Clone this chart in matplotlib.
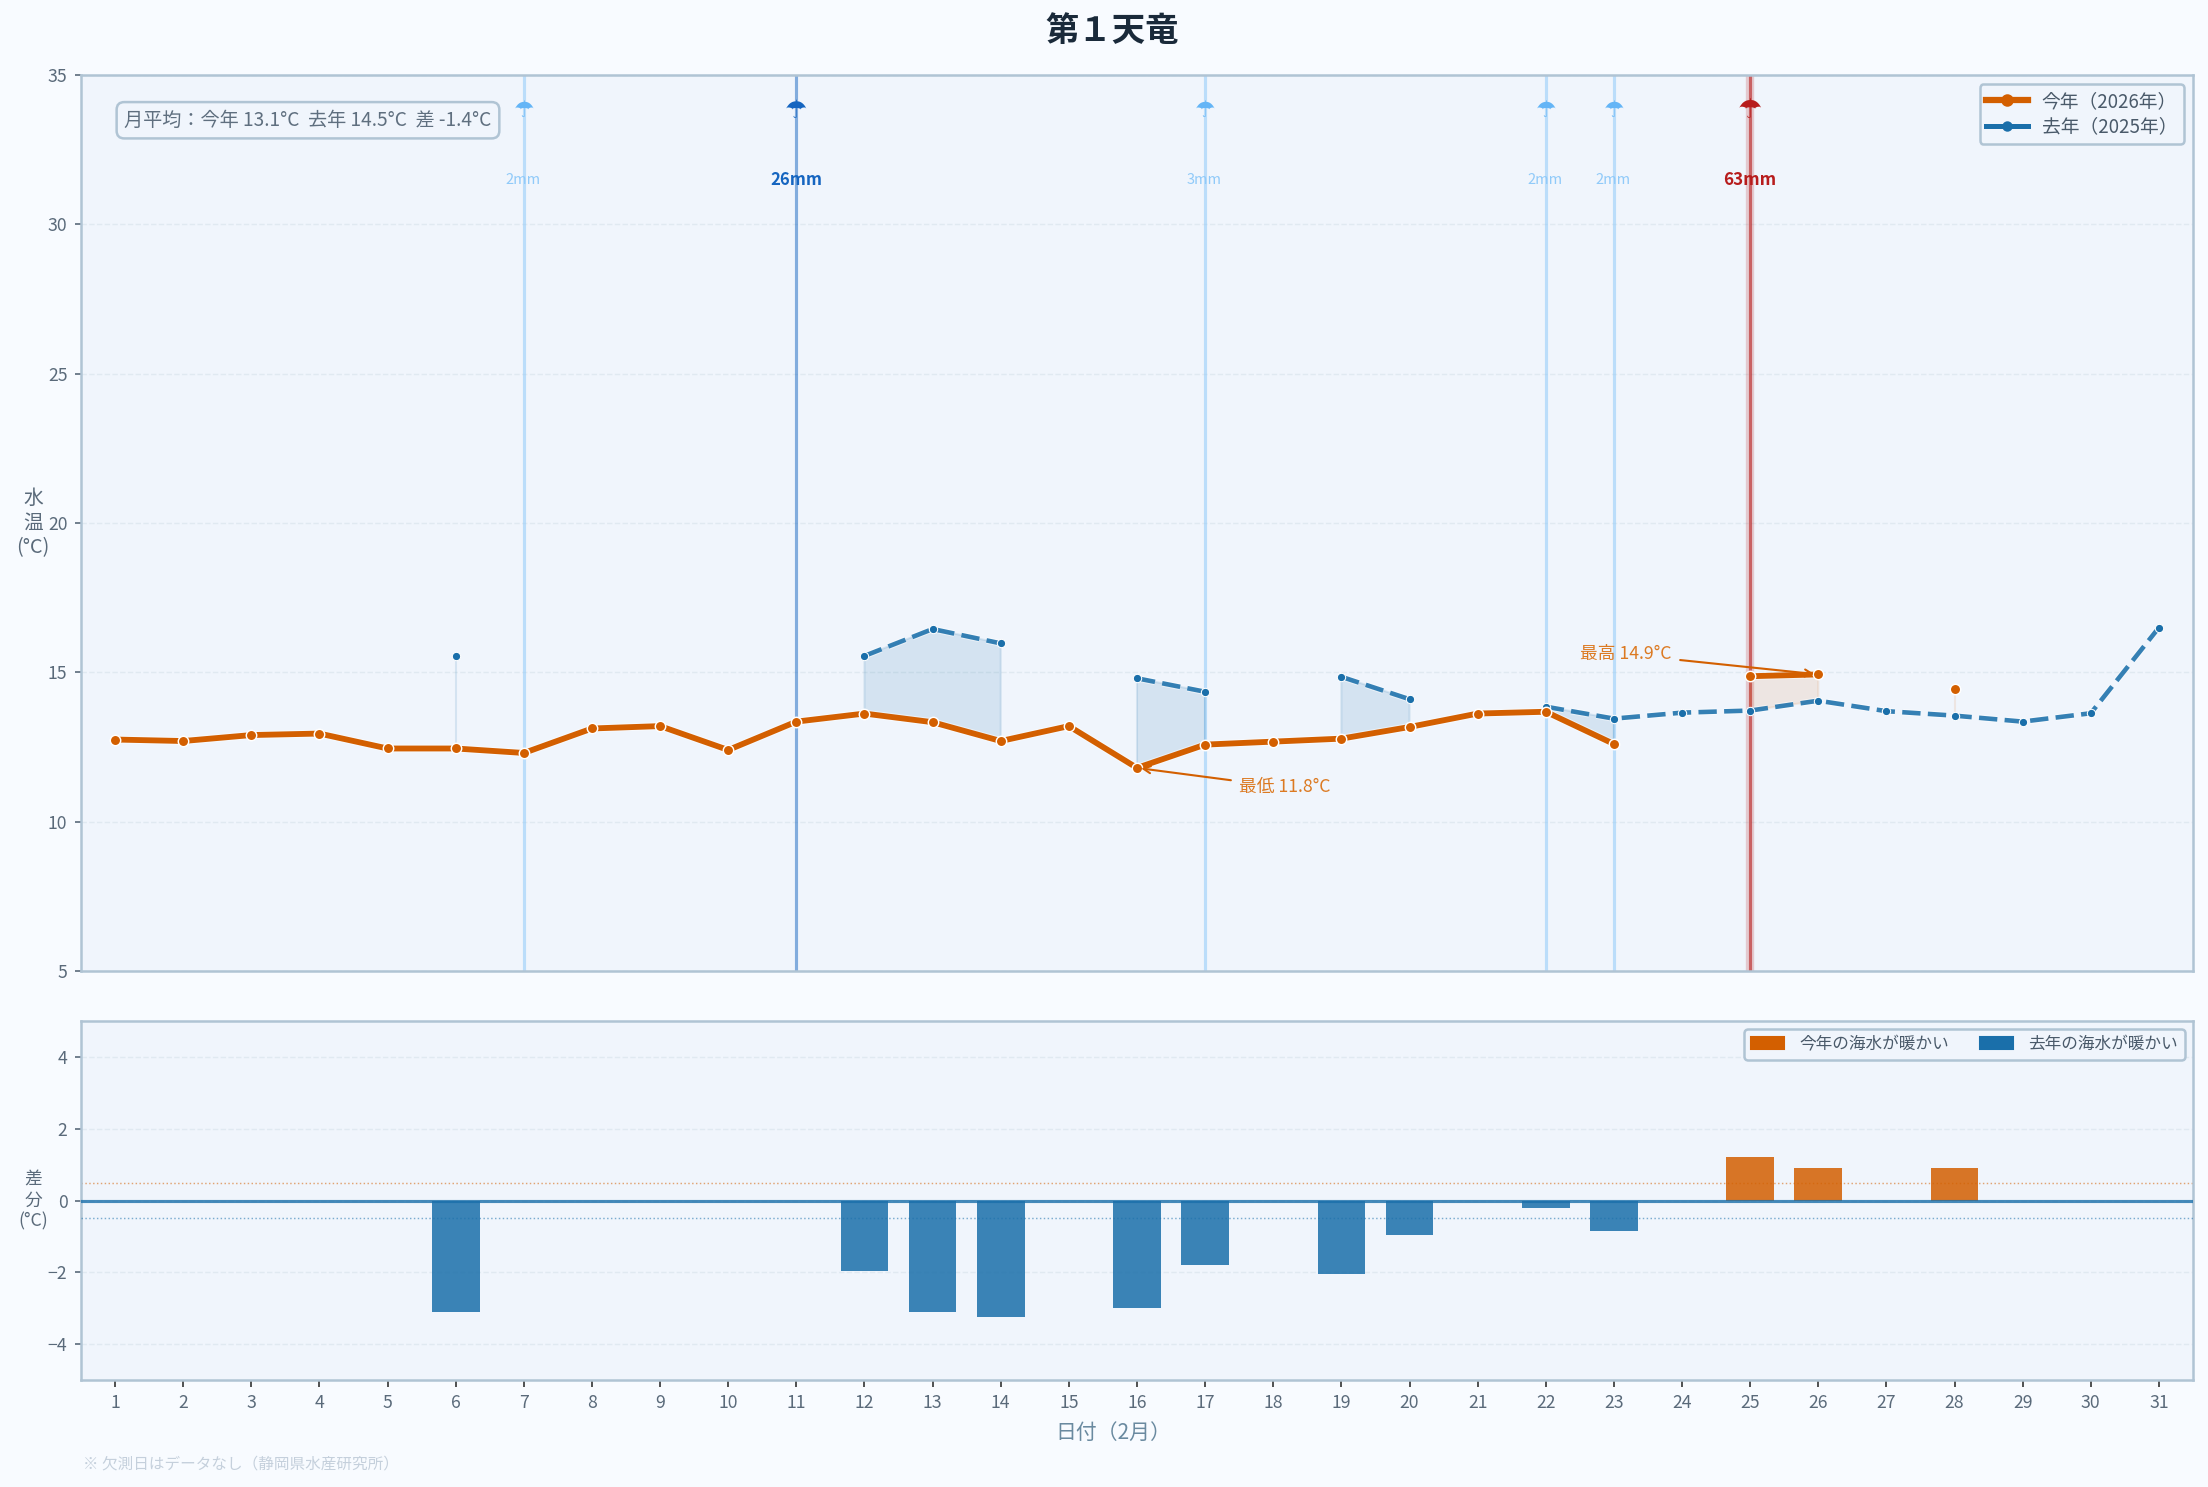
import numpy as np
import matplotlib
matplotlib.use('Agg')
import matplotlib.pyplot as plt
import matplotlib.patheffects as pe
from matplotlib.lines import Line2D
from matplotlib.patches import Patch

plt.rcParams['font.family'] = ['Noto Sans CJK JP', 'DejaVu Sans']

nan = np.nan
days = list(range(1, 32))
temp_2026 = [12.75, 12.7, 12.9, 12.95, 12.45, 12.45, 12.3, 13.12, 13.2, 12.4,
             13.35, 13.62, 13.33, 12.7, 13.2, 11.8, 12.58, 12.68, 12.78, 13.17,
             13.62, 13.68, 12.6, nan, 14.87, 14.93, nan, 14.45, nan, nan, nan]
temp_2025 = [nan, nan, nan, nan, nan, 15.55, nan, nan, nan, nan,
             nan, 15.55, 16.45, 15.97, nan, 14.8, 14.35, nan, 14.85, 14.1,
             nan, 13.85, 13.45, 13.65, 13.72, 14.05, 13.7, 13.55, 13.35, 13.63, 16.5]
diff_days = [6, 12, 13, 14, 16, 17, 19, 20, 22, 23, 25, 26, 28]
diff_vals = [-3.1, -1.95, -3.1, -3.25, -3.0, -1.8, -2.05, -0.95, -0.2, -0.85, 1.2, 0.9, 0.9]
rain_days = [7, 11, 17, 22, 23, 25]
rain_mm = [2, 26, 3, 2, 2, 63]

ORANGE = '#d35f00'
BLUE = '#1a6faa'
BG = '#f8fbff'
PANEL = '#f0f5fc'
SPINE = '#b0c4d4'
TICK = '#5a6a7a'

W, H = 2208, 1487
fig = plt.figure(figsize=(W / 150, H / 150), dpi=150, facecolor=BG)


def px_axes(x0, y0, x1, y1):
    return fig.add_axes([x0 / W, 1 - y1 / H, (x1 - x0) / W, (y1 - y0) / H], facecolor=PANEL)


ax = px_axes(81, 75, 2193, 971)
ax2 = px_axes(81, 1021, 2193, 1380)

x = np.array(days)
t26 = np.array(temp_2026)
t25 = np.array(temp_2025)

for a in (ax, ax2):
    a.set_xlim(0.5, 31.5)
    for s in a.spines.values():
        s.set_color(SPINE)
        s.set_linewidth(1.2)
    a.grid(axis='y', color='#dde6ef', linestyle='--', linewidth=0.7, alpha=0.8)
    a.set_axisbelow(True)
    a.tick_params(axis='y', labelsize=8.5, labelcolor=TICK, color=TICK, length=3)

# 上段：水温
ax.set_ylim(5, 35)
ax.set_yticks([5, 10, 15, 20, 25, 30, 35])
ax.tick_params(axis='x', bottom=False, labelbottom=False)
ax.set_xticks(days)

# 降水
for d, mm in zip(rain_days, rain_mm):
    if mm >= 50:
        col, txt, fs, fw, um, dx = '#b71c1c', '#b71c1c', 8.2, 'bold', 13, 0.0
        ax.axvline(d, color=col, lw=4, alpha=0.2, zorder=1)
        ax.axvline(d, color=col, lw=1.5, alpha=0.6, zorder=1)
    elif mm >= 20:
        col, txt, fs, fw, um, dx = '#1565c0', '#1565c0', 8, 'bold', 12, 0.0
        ax.axvline(d, color=col, lw=1.5, alpha=0.5, zorder=1)
    else:
        col, txt, fs, fw, um, dx = '#64b5f6', '#90caf9', 7, 'normal', 11, -0.01
        ax.axvline(d, color='#90caf9', lw=1.5, alpha=0.55, zorder=1)
    ax.text(d, 33.8, '\u2602', color=col, fontsize=um, ha='center', va='center',
            family='DejaVu Sans', zorder=3)
    ax.text(d + dx, 31.5, f'{mm}mm', color=txt, fontsize=fs, fontweight=fw,
            ha='center', va='center', zorder=3)

# 差の塗り
ax.fill_between(x, t26, t25, where=t25 > t26, color=BLUE, alpha=0.13, zorder=2)
ax.fill_between(x, t26, t25, where=t26 > t25, color=ORANGE, alpha=0.1, zorder=2)

ax.plot(x, t25, color=BLUE, lw=2.2, ls=(0, (4, 1.6)), alpha=0.88, zorder=4,
        path_effects=[pe.withStroke(linewidth=3.2, foreground='white', alpha=0.5)])
ax.plot(x, t25, ls='none', marker='o', color=BLUE, ms=4, mec='white', mew=0.5, zorder=4)
ax.plot(x, t26, color=ORANGE, lw=2.8, zorder=5,
        path_effects=[pe.withStroke(linewidth=3.8, foreground='white', alpha=0.5)])
ax.plot(x, t26, ls='none', marker='o', color=ORANGE, ms=5, mec='white', mew=0.7, zorder=5)

ax.annotate('最低 11.8°C', xy=(16, 11.8), xytext=(17.5, 11.15), color='#dc7a22', fontsize=8.5,
            va='center', ha='left', zorder=6,
            arrowprops=dict(arrowstyle='->', color=ORANGE, lw=1.0, shrinkA=2, shrinkB=2))
ax.annotate('最高 14.9°C', xy=(26, 14.93), xytext=(23.85, 15.6), color='#dc7a22', fontsize=8.5,
            va='center', ha='right', zorder=6,
            arrowprops=dict(arrowstyle='->', color=ORANGE, lw=1.0, shrinkA=2, shrinkB=2))

ax.text(0.0205, 0.9495, '月平均：今年 13.1°C  去年 14.5°C  差 -1.4°C', transform=ax.transAxes,
        color='#5f6f7f', fontsize=9.2, va='center', ha='left', zorder=6,
        bbox=dict(boxstyle='round,pad=0.4', facecolor=PANEL, edgecolor=SPINE, linewidth=1.2))

handles = [Line2D([], [], color=ORANGE, lw=3, marker='o', ms=5, label='今年（2026年）'),
           Line2D([], [], color=BLUE, lw=2.4, marker='o', ms=4, label='去年（2025年）')]
leg = ax.legend(handles=handles, loc='upper right', fontsize=9, facecolor=PANEL, edgecolor=SPINE,
                framealpha=1, labelcolor='#4a5a6a', handlelength=2.25, handletextpad=0.7,
                labelspacing=0.25, borderpad=0.35)
leg.get_frame().set_linewidth(1.2)
leg.set_zorder(7)

ax.set_ylabel('水\n温\n(°C)', rotation=0, fontsize=9.5, color=TICK, labelpad=7, va='center')

# 下段：差分
ax2.set_ylim(-5, 5)
ax2.set_yticks([-4, -2, 0, 2, 4])
ax2.set_xticks(days)
ax2.tick_params(axis='x', labelsize=8.5, labelcolor=TICK, color='#333333', length=3.5, pad=3)
bar_cols = [ORANGE if v > 0 else BLUE for v in diff_vals]
ax2.bar(diff_days, diff_vals, width=0.7, color=bar_cols, alpha=0.85, zorder=3)
ax2.axhline(0, color=BLUE, lw=1.5, alpha=0.8, zorder=4)
ax2.axhline(0.5, color=ORANGE, lw=0.7, ls=':', alpha=0.55, zorder=2)
ax2.axhline(-0.5, color=BLUE, lw=0.7, ls=':', alpha=0.55, zorder=4)
leg2 = ax2.legend(handles=[Patch(color=ORANGE, label='今年の海水が暖かい'),
                           Patch(color=BLUE, label='去年の海水が暖かい')],
                  loc='upper right', ncol=2, fontsize=8, facecolor=PANEL, edgecolor=SPINE,
                  framealpha=1, labelcolor='#4a5a6a', handlelength=1.95, handletextpad=0.93,
                  columnspacing=1.9)
leg2.get_frame().set_linewidth(1.2)
ax2.set_ylabel('差\n分\n(°C)', rotation=0, fontsize=8.5, color=TICK, labelpad=7, va='center')
ax2.set_xlabel('日付（2月）', fontsize=10, color='#6a8aa0', labelpad=5, x=0.489)

fig.text(1112 / W, 1 - 31 / H, '第１天竜', fontsize=16, fontweight='bold', color='#1a2a3a',
         ha='center', va='center')
fig.text(83 / W, 1 - 1464 / H, '※ 欠測日はデータなし（静岡県水産研究所）', fontsize=7.5, color='#c5d0dc',
         ha='left', va='center')

fig.savefig('out.png', dpi=150, facecolor=BG)
